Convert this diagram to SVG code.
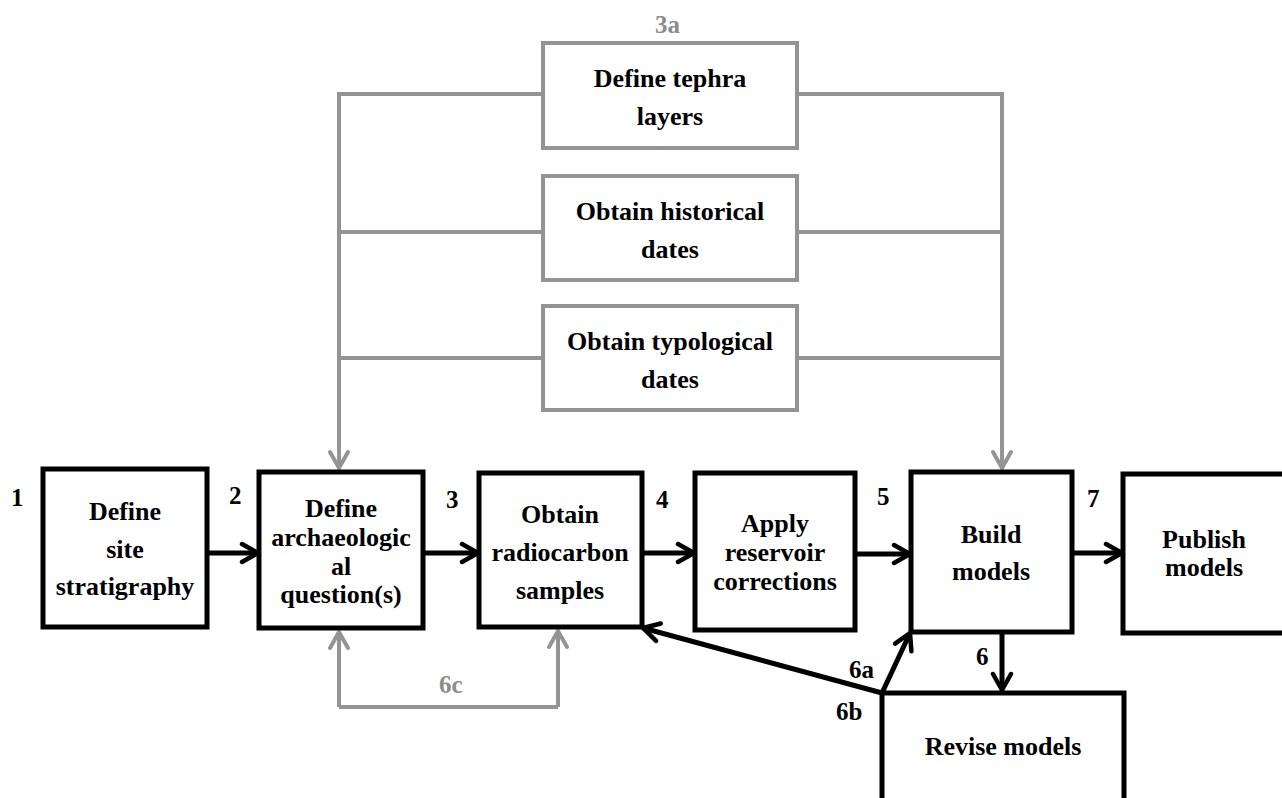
<svg xmlns="http://www.w3.org/2000/svg" width="1282" height="798" viewBox="0 0 1282 798">
<style>
text{font-family:"Liberation Serif","Times New Roman",serif;font-weight:bold;font-size:26px;fill:#000;text-anchor:middle}
.lbl{font-size:25px;text-anchor:start}
.glbl{fill:#8c8c8c}
.box{fill:#fff;stroke:#000;stroke-width:5}
.gbox{fill:#fff;stroke:#949494;stroke-width:4}
.blk{fill:none;stroke:#000;stroke-width:5}
.gry{fill:none;stroke:#949494;stroke-width:4}
</style>
<defs>
<marker id="ab" markerUnits="userSpaceOnUse" viewBox="0 0 24 24" markerWidth="24" markerHeight="24" refX="21" refY="12" orient="auto">
<path d="M5,3 L21,12 L5,21" fill="none" stroke="#000" stroke-width="4.5" stroke-linecap="round" stroke-linejoin="round"/>
</marker>
<marker id="ag" markerUnits="userSpaceOnUse" viewBox="0 0 24 24" markerWidth="24" markerHeight="24" refX="21" refY="12" orient="auto">
<path d="M5,3 L21,12 L5,21" fill="none" stroke="#949494" stroke-width="4" stroke-linecap="round" stroke-linejoin="round"/>
</marker>
</defs>
<rect width="1282" height="798" fill="#fff"/>
<g id="connectors">
<path class="gry" d="M542,94 H339 V468" marker-end="url(#ag)"/>
<path class="gry" d="M542,232 H339"/>
<path class="gry" d="M542,358 H339"/>
<path class="gry" d="M797,94 H1002 V468" marker-end="url(#ag)"/>
<path class="gry" d="M797,232 H1002"/>
<path class="gry" d="M797,358 H1002"/>
<path class="gry" d="M339,707 H558"/>
<path class="gry" d="M339,707 V632" marker-end="url(#ag)"/>
<path class="gry" d="M558,707 V631" marker-end="url(#ag)"/>
<path class="blk" d="M207,553 H258" marker-end="url(#ab)"/>
<path class="blk" d="M423,553 H478" marker-end="url(#ab)"/>
<path class="blk" d="M642,553 H694" marker-end="url(#ab)"/>
<path class="blk" d="M855,554 H910" marker-end="url(#ab)"/>
<path class="blk" d="M1072,553 H1122" marker-end="url(#ab)"/>
<path class="blk" d="M1002,632 V690" marker-end="url(#ab)"/>
<path class="blk" d="M882,693 L910,633" marker-end="url(#ab)"/>
<path class="blk" d="M882,693 L643,628" marker-end="url(#ab)"/>
</g>
<g id="labels">
<text class="lbl" x="11" y="506">1</text>
<text class="lbl" x="229" y="504">2</text>
<text class="lbl" x="446" y="508">3</text>
<text class="lbl" x="656" y="508">4</text>
<text class="lbl" x="877" y="505">5</text>
<text class="lbl" x="1087" y="507">7</text>
<text class="lbl" x="976" y="665">6</text>
<text class="lbl" x="849" y="678">6a</text>
<text class="lbl" x="836" y="720">6b</text>
<text class="lbl glbl" x="655" y="33">3a</text>
<text class="lbl glbl" x="439" y="693">6c</text>
</g>
<g id="n-tephra">
<rect class="gbox" x="543" y="43" width="254" height="105"/>
<text x="670" y="87">Define tephra</text>
<text x="670" y="125">layers</text>
</g>
<g id="n-historical">
<rect class="gbox" x="543" y="176" width="254" height="104"/>
<text x="670" y="220">Obtain historical</text>
<text x="670" y="258">dates</text>
</g>
<g id="n-typological">
<rect class="gbox" x="543" y="306" width="254" height="104"/>
<text x="670" y="350">Obtain typological</text>
<text x="670" y="388">dates</text>
</g>
<g id="n1">
<rect class="box" x="43" y="469" width="164" height="158"/>
<text x="125" y="520">Define</text>
<text x="125" y="558">site</text>
<text x="125" y="595">stratigraphy</text>
</g>
<g id="n2">
<rect class="box" x="259" y="472" width="164" height="156"/>
<text x="341" y="517">Define</text>
<text x="341" y="546">archaeologic</text>
<text x="341" y="575">al</text>
<text x="341" y="603">question(s)</text>
</g>
<g id="n3">
<rect class="box" x="479" y="473" width="163" height="154"/>
<text x="560" y="523">Obtain</text>
<text x="560" y="561">radiocarbon</text>
<text x="560" y="599">samples</text>
</g>
<g id="n4">
<rect class="box" x="695" y="473" width="160" height="157"/>
<text x="775" y="532">Apply</text>
<text x="775" y="561">reservoir</text>
<text x="775" y="590">corrections</text>
</g>
<g id="n5">
<rect class="box" x="911" y="472" width="161" height="160"/>
<text x="991" y="543">Build</text>
<text x="991" y="580">models</text>
</g>
<g id="n7">
<rect class="box" x="1123" y="474" width="180" height="159"/>
<text x="1204" y="548">Publish</text>
<text x="1204" y="576">models</text>
</g>
<g id="n6">
<rect class="box" x="882" y="693" width="242" height="120"/>
<text x="1003" y="755">Revise models</text>
</g>
</svg>
